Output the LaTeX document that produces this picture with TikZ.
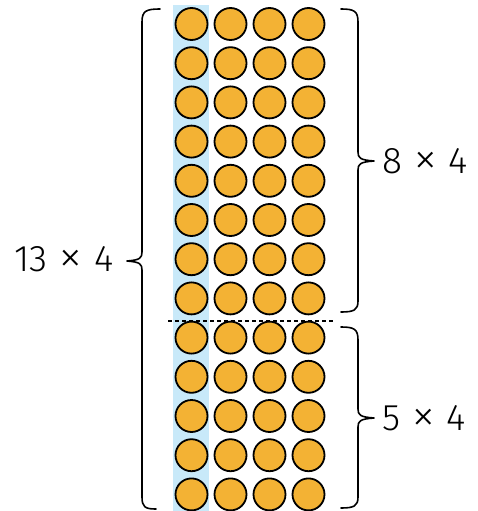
\documentclass[tikz,border=0pt]{standalone}
\usepackage{fontspec}
\setmainfont{Fira Sans Light}
\newfontfamily\thinfont{Fira Sans ExtraLight}
\definecolor{dotorange}{HTML}{F3B234}
\definecolor{colblue}{HTML}{C8E9F9}
\newcommand{\bigtimes}{\raisebox{-0.06em}{\thinfont\fontsize{50}{50}\selectfont ×}}
\begin{document}
\begin{tikzpicture}[x=1pt,y=-1pt,
  dot/.style={circle,draw=black,line width=1.8pt,fill=dotorange,minimum size=32pt,inner sep=0pt},
  bracepath/.style={line width=1.6pt,line cap=round,line join=round},
  lbl/.style={font=\fontsize{37}{37}\selectfont,inner sep=0pt}]
\useasboundingbox (0,0) rectangle (477,511);
\fill[colblue] (172.7,5) rectangle (209,511);
\foreach \r in {0,...,12}{
  \foreach \c in {0,...,3}{
    \node[dot] (c-\r-\c) at ({191.5+39*\c},{24+39.2*\r}) {};
  }
}
\coordinate (dl) at (168,321);
\coordinate (dr) at (333,321);
\draw[dashed,line width=1.2pt,dash pattern=on 4pt off 3pt] (dl) -- (dr);
% left brace
\draw[bracepath] (160,9) .. controls (146,9) and (142,11) .. (142,22) -- (142,252)
  .. controls (142,258) and (140,260) .. (127,261)
  .. controls (140,262) and (142,264) .. (142,270) -- (142,497)
  .. controls (142,507) and (145,509) .. (156,509);
% right top brace
\draw[bracepath] (341,9) .. controls (354,9) and (358,11) .. (358,22) -- (358,152)
  .. controls (358,158) and (360,160) .. (374,161)
  .. controls (360,162) and (358,164) .. (358,170) -- (358,301)
  .. controls (358,310) and (354,312) .. (341,312);
% right bottom brace
\draw[bracepath] (341,327) .. controls (354,327) and (358,329) .. (358,340) -- (358,409)
  .. controls (358,415) and (360,417) .. (374,418)
  .. controls (360,419) and (358,421) .. (358,427) -- (358,497)
  .. controls (358,506) and (354,508) .. (341,508);
\node[lbl,anchor=east] (t13) at (114,260) {13\hspace{0.3em}\bigtimes\hspace{0.3em}4};
\node[lbl,anchor=west] (t8) at (382,162) {8\hspace{0.3em}\bigtimes\hspace{0.3em}4};
\node[lbl,anchor=west] (t5) at (382,419) {5\hspace{0.3em}\bigtimes\hspace{0.3em}4};
\end{tikzpicture}
\end{document}
